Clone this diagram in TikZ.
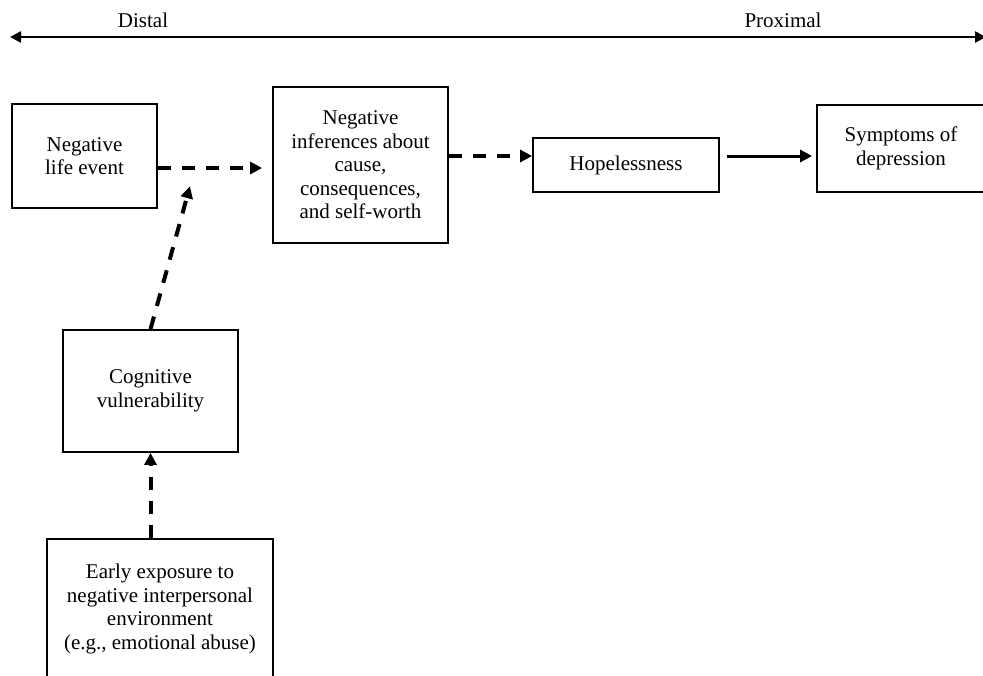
\documentclass[tikz,border=0pt]{standalone}
\usepackage{fontspec}
\setmainfont{Liberation Serif}
\usetikzlibrary{arrows.meta, calc}

\begin{document}
\begin{tikzpicture}[x=1pt,y=1pt]
			\tikzstyle{every node}+=[inner sep=0pt, font=\fontsize{21}{23.5}\selectfont]
			\tikzstyle{box}=[draw, line width=1.8pt, align=center]
			\tikzstyle{tip}=[-{Triangle[length=12pt,width=12pt]}]
			\tikzstyle{dasharrow}=[tip, line width=4pt, dash pattern=on 13pt off 11pt]
			\tikzstyle{solidarrow}=[tip, line width=3pt]
			\clip (0,0) rectangle (983,-675);
			% distal / proximal axis
			\coordinate (far) at (10,-37);
			\coordinate (near) at (986,-37);
			\draw [line width=2.5pt, {Triangle[length=11pt,width=11pt]}-{Triangle[length=11pt,width=11pt]}] (far) -- (near);
			\node (distal) at (143,-20) {Distal};
			\node (proximal) at (783,-20) {Proximal};
			% boxes
			\node [box, minimum width=145pt, minimum height=104pt] (life) at (84.5,-156) {Negative\\life event};
			\node [box, minimum width=175pt, minimum height=156pt] (infer) at (360.5,-165) {Negative\\inferences about\\cause,\\consequences,\\and self-worth};
			\node [box, minimum width=186pt, minimum height=54pt] (hope) at (626,-165) {Hopelessness};
			\node [box, minimum width=168pt, minimum height=87pt] (symp) at (901,-148.5) {Symptoms of\\depression};
			\node [box, minimum width=175pt, minimum height=122pt] (cog) at (150.5,-391) {Cognitive\\vulnerability};
			\node [box, minimum width=226pt, minimum height=140pt] (early) at (160,-609) {Early exposure to\\negative interpersonal\\environment\\(e.g., emotional abuse)};
			% arrows
			\coordinate (lrow) at (0,-168);
			\coordinate (hrow) at (0,-156);
			\coordinate (join) at (195,-168);
			\draw [dasharrow, shorten >=10pt] (life.east |- lrow) -- (infer.west |- lrow);
			\draw [dasharrow] (infer.east |- hrow) -- (hope.west |- hrow);
			\draw [solidarrow, shorten <=7pt, shorten >=4pt] (hope.east |- hrow) -- (symp.west |- hrow);
			\draw [dasharrow, shorten >=19pt] (cog.north) -- (join);
			\draw [dasharrow] (early.north -| cog.south) -- (cog.south);
\end{tikzpicture}
\end{document}
